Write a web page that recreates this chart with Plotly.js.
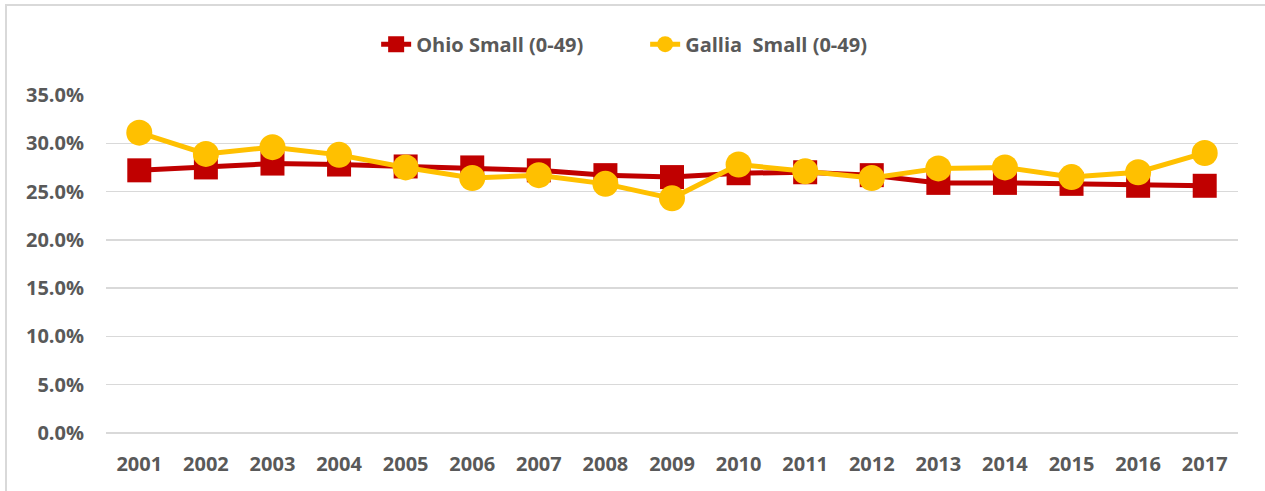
<!DOCTYPE html>
<html>
<head>
<meta charset="utf-8">
<script src="https://cdn.plot.ly/plotly-3.0.1.min.js"></script>
<style>
  html, body { margin: 0; padding: 0; background: #ffffff; overflow: hidden; }
  #frame { position: absolute; left: 5px; top: 4px; width: 1300px; height: 520px; border: 2px solid #d9d9d9; box-sizing: border-box; pointer-events: none; z-index: 5; }
  #chart { position: absolute; left: 0; top: 0; width: 1265px; height: 491px; }
</style>
</head>
<body>
<div id="chart"></div>
<div id="frame"></div>
<script>
const years = ['2001','2002','2003','2004','2005','2006','2007','2008','2009','2010','2011','2012','2013','2014','2015','2016','2017'];
const ohioSmall = [0.272, 0.275, 0.279, 0.278, 0.276, 0.275, 0.272, 0.267, 0.265, 0.269, 0.270, 0.267, 0.259, 0.259, 0.258, 0.256, 0.256];
const galliaSmall = [0.311, 0.289, 0.296, 0.288, 0.275, 0.264, 0.267, 0.258, 0.243, 0.278, 0.271, 0.264, 0.274, 0.275, 0.265, 0.270, 0.290];
const seriesNames = ['Ohio Small (0-49)', 'Gallia  Small (0-49)'];
const yTickVals = [0, 0.05, 0.10, 0.15, 0.20, 0.25, 0.30, 0.35];

const fontFamily = '"Open Sans", "Liberation Sans", sans-serif';
const textColor = '#595959';

const traces = [
  {
    x: years, y: ohioSmall, name: seriesNames[0], type: 'scatter', mode: 'lines+markers',
    line: { color: '#C00000', width: 5 },
    marker: { symbol: 'square', size: 24, color: '#C00000' }
  },
  {
    x: years, y: galliaSmall, name: seriesNames[1], type: 'scatter', mode: 'lines+markers',
    line: { color: '#FFC000', width: 5 },
    marker: { symbol: 'circle', size: 26, color: '#FFC000' }
  }
];

const layout = {
  width: 1265, height: 491,
  margin: { l: 106, r: 27, t: 95, b: 58 },
  paper_bgcolor: '#ffffff', plot_bgcolor: '#ffffff',
  font: { family: fontFamily, color: textColor, size: 20 },
  showlegend: true,
  legend: {
    orientation: 'h', xref: 'container', yref: 'container',
    x: 0.510, xanchor: 'center', y: 0.91, yanchor: 'middle',
    font: { family: fontFamily, color: textColor, size: 20, weight: 'bold' },
    itemwidth: 30, entrywidth: 224, entrywidthmode: 'pixels', bgcolor: 'rgba(0,0,0,0)'
  },
  xaxis: {
    type: 'category', range: [-0.5, 16.5],
    showgrid: false, zeroline: false, showline: false, ticks: '',
    tickfont: { family: fontFamily, color: textColor, size: 20, weight: 'bold' },
    ticklabelstandoff: 17
  },
  yaxis: {
    range: [0, 0.35], tickvals: yTickVals, tickformat: '.1%',
    showgrid: true, gridcolor: '#d9d9d9', gridwidth: 1.5,
    zeroline: true, zerolinecolor: '#d9d9d9', zerolinewidth: 1.5,
    showline: false, ticks: '',
    tickfont: { family: fontFamily, color: textColor, size: 20, weight: 'bold' },
    ticklabelstandoff: 21
  }
};

Plotly.newPlot('chart', traces, layout, { displayModeBar: false, staticPlot: true });
</script>
</body>
</html>
